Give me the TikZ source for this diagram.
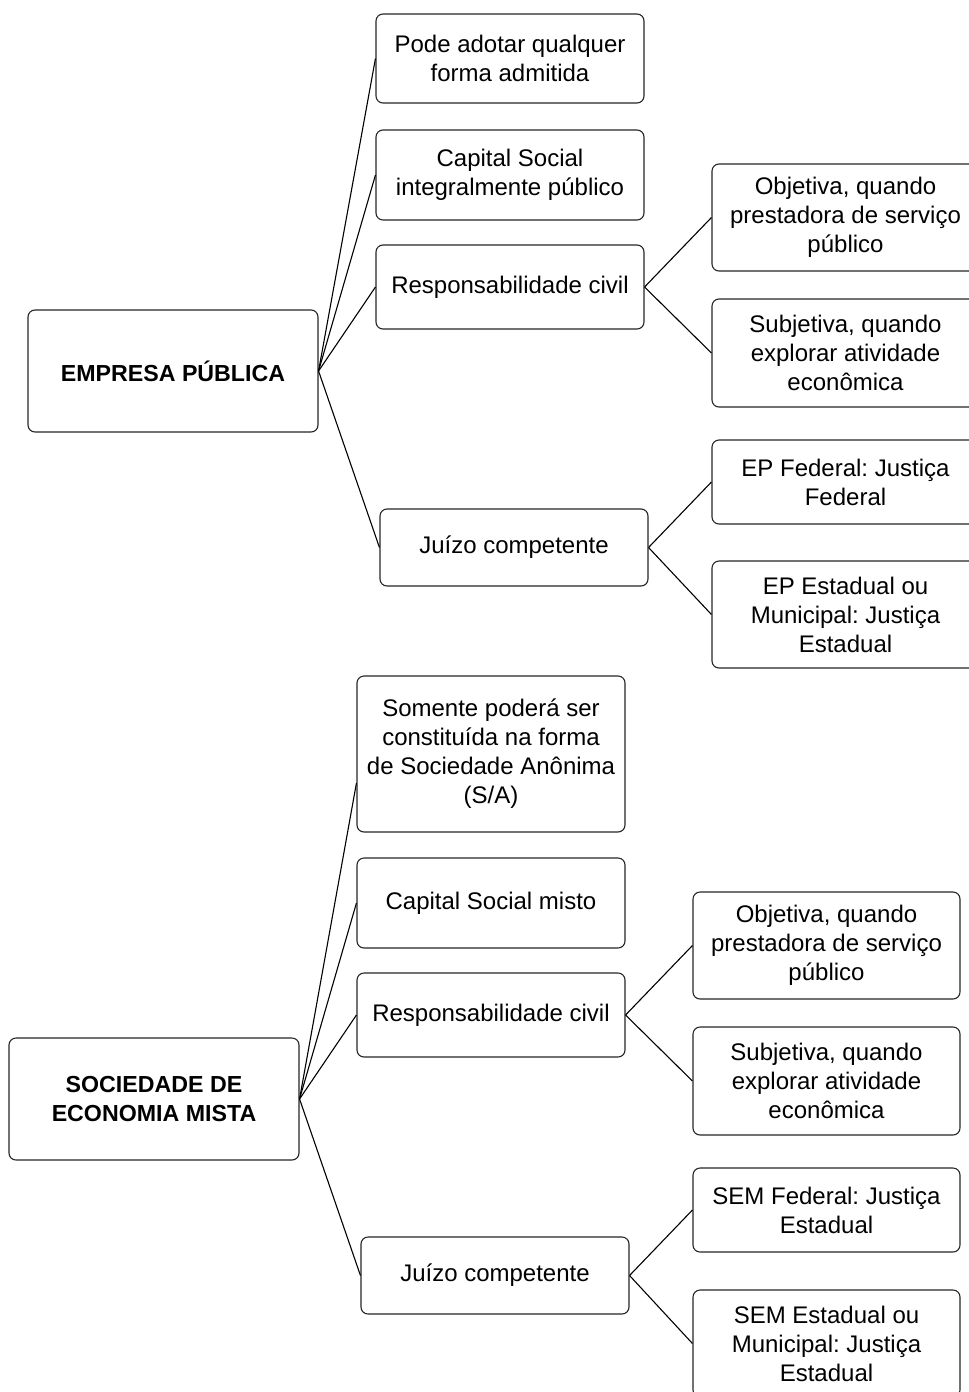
\documentclass[tikz,border=0pt]{standalone}
\usepackage{fontspec}
\setmainfont{Liberation Sans}
\frenchspacing
\begin{document}
\begin{tikzpicture}[x=1pt,y=-1pt,
  box/.style={draw=black!85,line width=1.1pt,rounded corners=7pt,fill=white,align=center,inner sep=0pt,
    font=\fontsize{24}{29}\selectfont\frenchspacing},
  mainbox/.style={box,minimum width=290pt,minimum height=122pt,font=\fontsize{23.2}{29}\selectfont\bfseries},
  midbox/.style={box,minimum width=268pt},
  leafbox/.style={box,minimum width=267pt},
  conn/.style={draw=black,line width=1.1pt}]
\useasboundingbox (0,0) rectangle (969,1392);
% top section
\node[mainbox] (ep) at (173,371) {EMPRESA PÚBLICA};
\node[midbox,minimum height=89pt] (a1) at (510,58.5) {Pode adotar qualquer\\forma admitida};
\node[midbox,minimum height=90pt] (a2) at (510,175) {Capital Social\\integralmente público};
\node[midbox,minimum height=84pt] (a3) at (510,287) {Responsabilidade civil};
\node[midbox,minimum height=77pt] (a4) at (514,547.5) {Juízo competente};
\node[leafbox,minimum height=107pt] (a5) at (845.5,217.5) {Objetiva, quando\\prestadora de serviço\\público};
\node[leafbox,minimum height=108pt] (a6) at (845.5,353) {Subjetiva, quando\\explorar atividade\\econômica};
\node[leafbox,minimum height=84pt] (a7) at (845.5,482) {EP Federal: Justiça\\Federal};
\node[leafbox,minimum height=107pt] (a8) at (845.5,614.5) {EP Estadual ou\\Municipal: Justiça\\Estadual};
\foreach \n in {a1,a2,a3,a4} \draw[conn] (ep.east) -- (\n.west);
\draw[conn] (a3.east) -- (a5.west);
\draw[conn] (a3.east) -- (a6.west);
\draw[conn] (a4.east) -- (a7.west);
\draw[conn] (a4.east) -- (a8.west);
% bottom section
\node[mainbox] (sem) at (154,1099) {SOCIEDADE DE\\ECONOMIA MISTA};
\node[midbox,minimum height=156pt] (b1) at (491,754) {Somente poderá ser\\constituída na forma\\de Sociedade Anônima\\(S/A)};
\node[midbox,minimum height=90pt] (b2) at (491,903) {Capital Social misto};
\node[midbox,minimum height=84pt] (b3) at (491,1015) {Responsabilidade civil};
\node[midbox,minimum height=77pt] (b4) at (495,1275.5) {Juízo competente};
\node[leafbox,minimum height=107pt] (b5) at (826.5,945.5) {Objetiva, quando\\prestadora de serviço\\público};
\node[leafbox,minimum height=108pt] (b6) at (826.5,1081) {Subjetiva, quando\\explorar atividade\\econômica};
\node[leafbox,minimum height=84pt] (b7) at (826.5,1210) {SEM Federal: Justiça\\Estadual};
\node[leafbox,minimum height=107pt] (b8) at (826.5,1343.5) {SEM Estadual ou\\Municipal: Justiça\\Estadual};
\coordinate (b1in) at ([yshift=-29pt]b1.west);
\draw[conn] (sem.east) -- (b1in);
\foreach \n in {b2,b3,b4} \draw[conn] (sem.east) -- (\n.west);
\draw[conn] (b3.east) -- (b5.west);
\draw[conn] (b3.east) -- (b6.west);
\draw[conn] (b4.east) -- (b7.west);
\draw[conn] (b4.east) -- (b8.west);
\end{tikzpicture}
\end{document}
